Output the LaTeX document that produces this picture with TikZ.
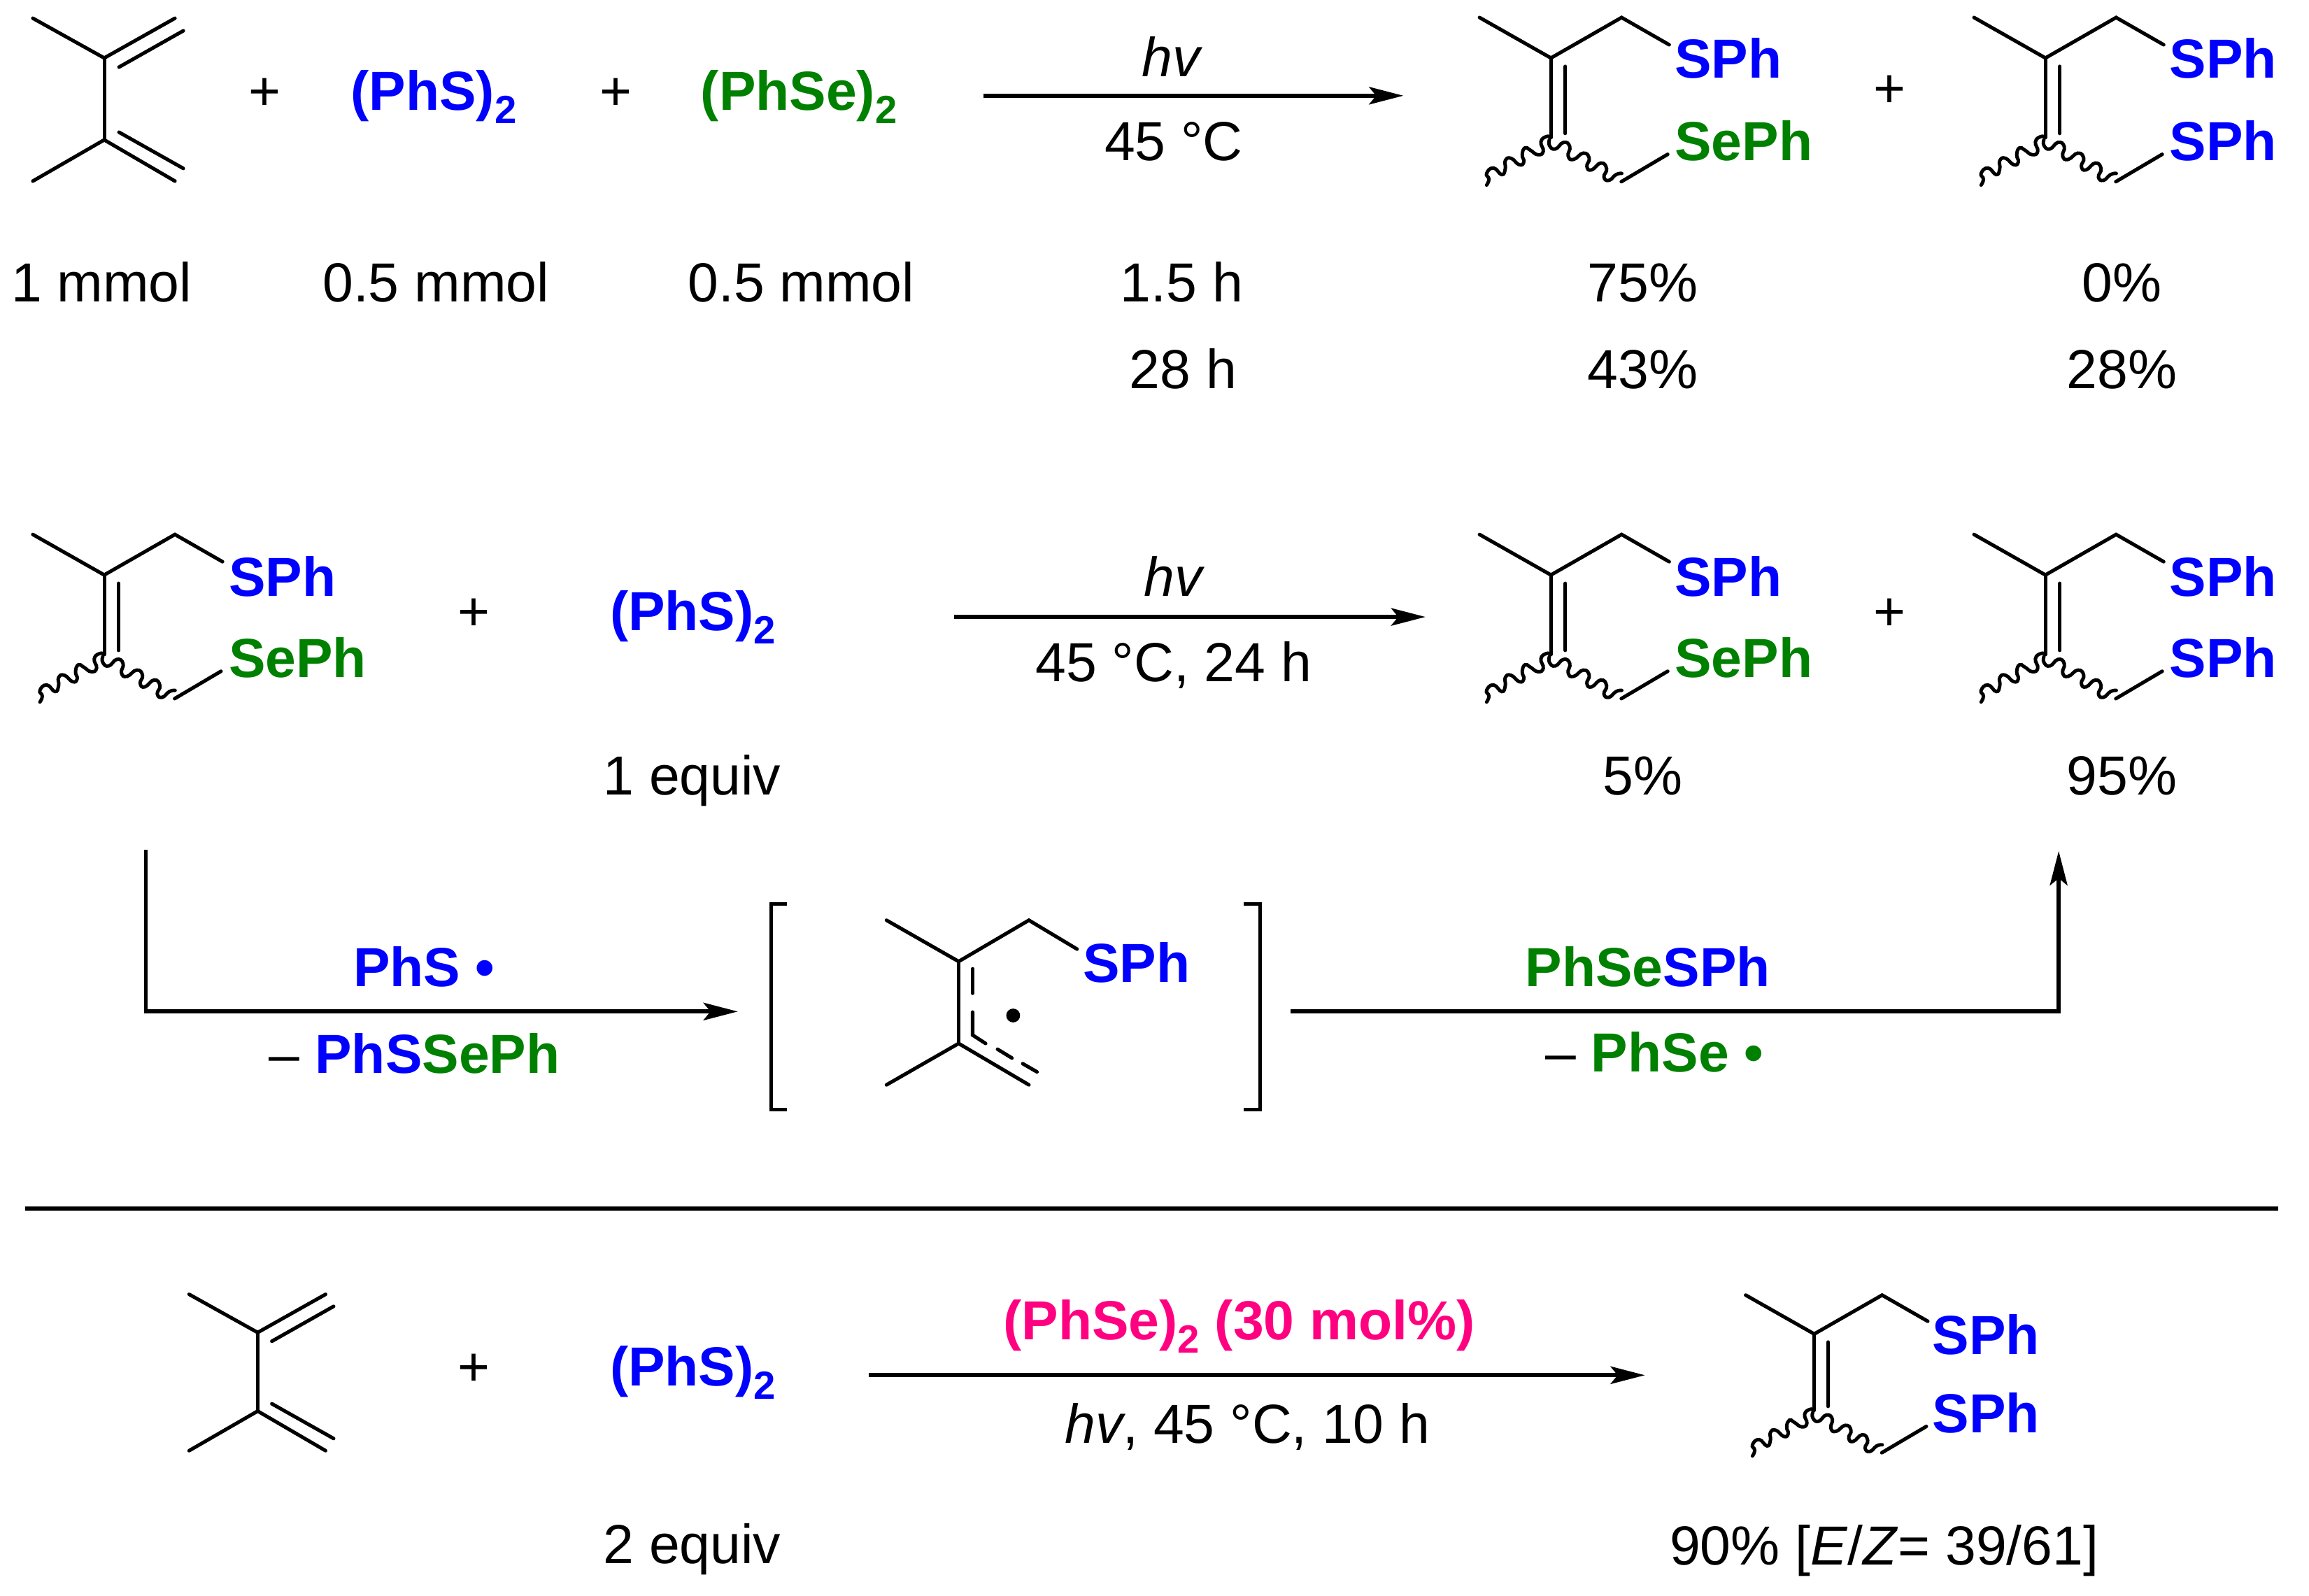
\documentclass[tikz,border=0pt]{standalone}
\usepackage{fontspec}
\setmainfont{Liberation Sans}
\usepackage{xcolor}
\usepackage{tikz}
\usetikzlibrary{arrows.meta}

\definecolor{sblue}{RGB}{0,0,255}
\definecolor{segreen}{RGB}{0,128,0}
\definecolor{catpink}{RGB}{255,0,128}
\newcommand{\subtwo}{\raisebox{-5.4pt}{\fontsize{16}{16}\selectfont 2}}

\tikzset{
    bond/.style={line width=1.45pt, line cap=round, line join=miter},
    wavybond/.style={line width=1.4pt, line cap=round},
    rxn/.style={line width=1.6pt, -{Stealth[length=4.9mm, width=2.5mm, inset=1mm]}},
    txt/.style={anchor=base, inner sep=0pt, font=\fontsize{22.4}{27}\selectfont},
    bold/.style={txt, font=\fontsize{22.4}{27}\selectfont\bfseries},
    lbl/.style={anchor=base west, inner sep=0pt, font=\fontsize{22.4}{27}\selectfont\bfseries},
    diene/.pic={
        \draw[bond] (-48.5,-27) -- (0,0) -- (48,-27);
        \draw[bond] (10,6.2) -- (53.7,-18.5);
        \draw[bond] (0,0) -- (0,55.6);
        \draw[bond] (-48.5,83.6) -- (0,55.6) -- (48,83.6);
        \draw[bond] (10,50.4) -- (53.7,75);
    },
    adduct/.pic={
        \draw[bond] (-48.5,-27.5) -- (0,0) -- (48,-27.5) -- (80.3,-9);
        \draw[bond] (0,0) -- (0,54);
        \draw[bond] (9.8,5.7) -- (9.8,51.2);
        \draw[wavybond] plot[smooth, tension=0.9] coordinates {(0,53.8) (-3.3,53.4) (-6.8,57) (-5.2,63.3) (-8.9,65.7) (-14.1,62.5) (-17.6,61) (-19.5,65.7) (-18.4,70.5) (-21.5,72.5) (-27.1,68.1) (-31,69.7) (-31,75.2) (-33.4,79.2) (-39,74.7) (-43.7,78.4) (-42.1,82.3) (-43.7,86.3)};
        \draw[wavybond] plot[smooth, tension=0.9] coordinates {(-1,55.4) (-1,59.4) (3,61.8) (8.6,57.3) (12.8,60.2) (11.7,66.5) (15.4,68.9) (22,64.6) (26,68.1) (24.4,73.6) (27.6,76) (33.9,71.3) (37.8,75.2) (36,80.8) (39.4,83.1) (44.2,79.2) (48.1,78.4)};
        \draw[bond] (47.8,84) -- (79.3,65.4);
    },
}

\begin{document}
\begin{tikzpicture}[x=0.021052cm, y=-0.021052cm]
    \useasboundingbox (0,0) rectangle (1568,1083.5);

    \pic at (70.8,39.4) {diene};
    \node[txt] (plusa) at (180,75) {+};
    \node[bold, text=sblue] (phs) at (294.5,75) {(PhS)\subtwo};
    \node[txt] (plusb) at (418,75) {+};
    \node[bold, text=segreen] (phse) at (542.5,75) {(PhSe)\subtwo};
    \coordinate (aas) at (668,65);
    \coordinate (aae) at (953,65);
    \draw[rxn] (aas) -- (aae);
    \node[txt] (hva) at (796,52) {\textit{hv}};
    \node[txt] (tempa) at (797,109) {45 °C};
    \pic at (1053.2,39.4) {adduct};
    \node[lbl, text=sblue] (spha) at (1137,53.2) {SPh};
    \node[lbl, text=segreen] (sepha) at (1137,109) {SePh};
    \node[txt] (plusc) at (1283,73) {+};
    \pic at (1389,39.4) {adduct};
    \node[lbl, text=sblue] (sphb) at (1473,53.2) {SPh};
    \node[lbl, text=sblue] (sphc) at (1473,109) {SPh};

    \node[txt] (mmola) at (69,205) {1 mmol};
    \node[txt] (mmolb) at (296,205) {0.5 mmol};
    \node[txt] (mmolc) at (544,205) {0.5 mmol};
    \node[txt] (timea) at (802.5,205) {1.5 h};
    \node[txt] (yielda) at (1115.5,205) {75\%};
    \node[txt] (yieldb) at (1441,205) {0\%};
    \node[txt] (timeb) at (803.5,264) {28 h};
    \node[txt] (yieldc) at (1115.5,264) {43\%};
    \node[txt] (yieldd) at (1441,264) {28\%};

    \pic at (70.8,390.5) {adduct};
    \node[lbl, text=sblue] (sphd) at (155,405) {SPh};
    \node[lbl, text=segreen] (sephb) at (155,460) {SePh};
    \node[txt] (plusd) at (322,428) {+};
    \node[bold, text=sblue] (phsb) at (470.5,428) {(PhS)\subtwo};
    \coordinate (abs) at (648,419);
    \coordinate (abe) at (968,419);
    \draw[rxn] (abs) -- (abe);
    \node[txt] (hvb) at (797.5,405) {\textit{hv}};
    \node[txt] (tempb) at (797,463) {45 °C, 24 h};
    \pic at (1053.2,390.5) {adduct};
    \node[lbl, text=sblue] (sphe) at (1137,405) {SPh};
    \node[lbl, text=segreen] (sephc) at (1137,460) {SePh};
    \node[txt] (pluse) at (1283,428) {+};
    \pic at (1389,390.5) {adduct};
    \node[lbl, text=sblue] (sphf) at (1473,405) {SPh};
    \node[lbl, text=sblue] (sphg) at (1473,460) {SPh};
    \node[txt] (equiva) at (470,540) {1 equiv};
    \node[txt] (yielde) at (1115.5,540) {5\%};
    \node[txt] (yieldf) at (1441,540) {95\%};

    \coordinate (ups) at (99,577);
    \coordinate (upe) at (501,687);
    \draw[rxn] (ups) |- (upe);
    \node[bold, text=sblue] (rada) at (288,670) {PhS •};
    \node[bold] (elima) at (281.5,729) {\mdseries – \textbf{\textcolor{sblue}{PhS}\textcolor{segreen}{SePh}}};
    \draw[bond, line cap=butt] (534.6,614) -- (523.7,614) -- (523.7,753.7) -- (534.6,753.7);
    \draw[bond, line cap=butt] (844.6,614) -- (855.5,614) -- (855.5,753.7) -- (844.6,753.7);
    \draw[bond] (602,625) -- (651,653) -- (698.7,625) -- (731.4,644.6);
    \draw[bond] (651,653) -- (651,708.7);
    \draw[bond] (602,736.8) -- (651,708.7) -- (698.7,736.8);
    \draw[bond] (660.5,658) -- (660.5,674.6);
    \draw[bond] (660.5,687.4) -- (660.5,703) -- (669.3,708.7);
    \draw[bond] (677.4,712.6) -- (687.2,718.6);
    \draw[bond] (694.5,722.4) -- (704.2,728);
    \fill (688,689.7) circle (4.7);
    \node[lbl, text=sblue] (sphh) at (735,667) {SPh};
    \coordinate (dns) at (876.5,687);
    \coordinate (dne) at (1398,578);
    \draw[rxn] (dns) -| (dne);
    \node[bold] (radb) at (1119,670) {\textcolor{segreen}{PhSe}\textcolor{sblue}{SPh}};
    \node[bold] (elimb) at (1123.5,728) {\mdseries – \textcolor{segreen}{\bfseries PhSe •}};

    \coordinate (sepl) at (17,820.8);
    \coordinate (sepr) at (1547,820.8);
    \draw[line width=1.7pt] (sepl) -- (sepr);

    \pic[scale=0.96] at (175,905) {diene};
    \node[txt] (plusf) at (322,941) {+};
    \node[bold, text=sblue] (phsc) at (470.5,941) {(PhS)\subtwo};
    \coordinate (acs) at (590,934);
    \coordinate (ace) at (1117,934);
    \draw[rxn] (acs) -- (ace);
    \node[bold, text=catpink] (cat) at (841.5,910) {(PhSe)\subtwo{} (30 mol\%)};
    \node[txt] (tempc) at (847,980) {\textit{hv}, 45 °C, 10 h};
    \pic[scale=0.96] at (1232,906) {adduct};
    \node[lbl, text=sblue] (sphi) at (1312,920) {SPh};
    \node[lbl, text=sblue] (sphj) at (1312,973) {SPh};
    \node[txt] (equivb) at (470,1062) {2 equiv};
    \node[txt] (yieldg) at (1279.5,1063) {90\% [\textit{E}/\textit{Z}= 39/61]};
\end{tikzpicture}
\end{document}
